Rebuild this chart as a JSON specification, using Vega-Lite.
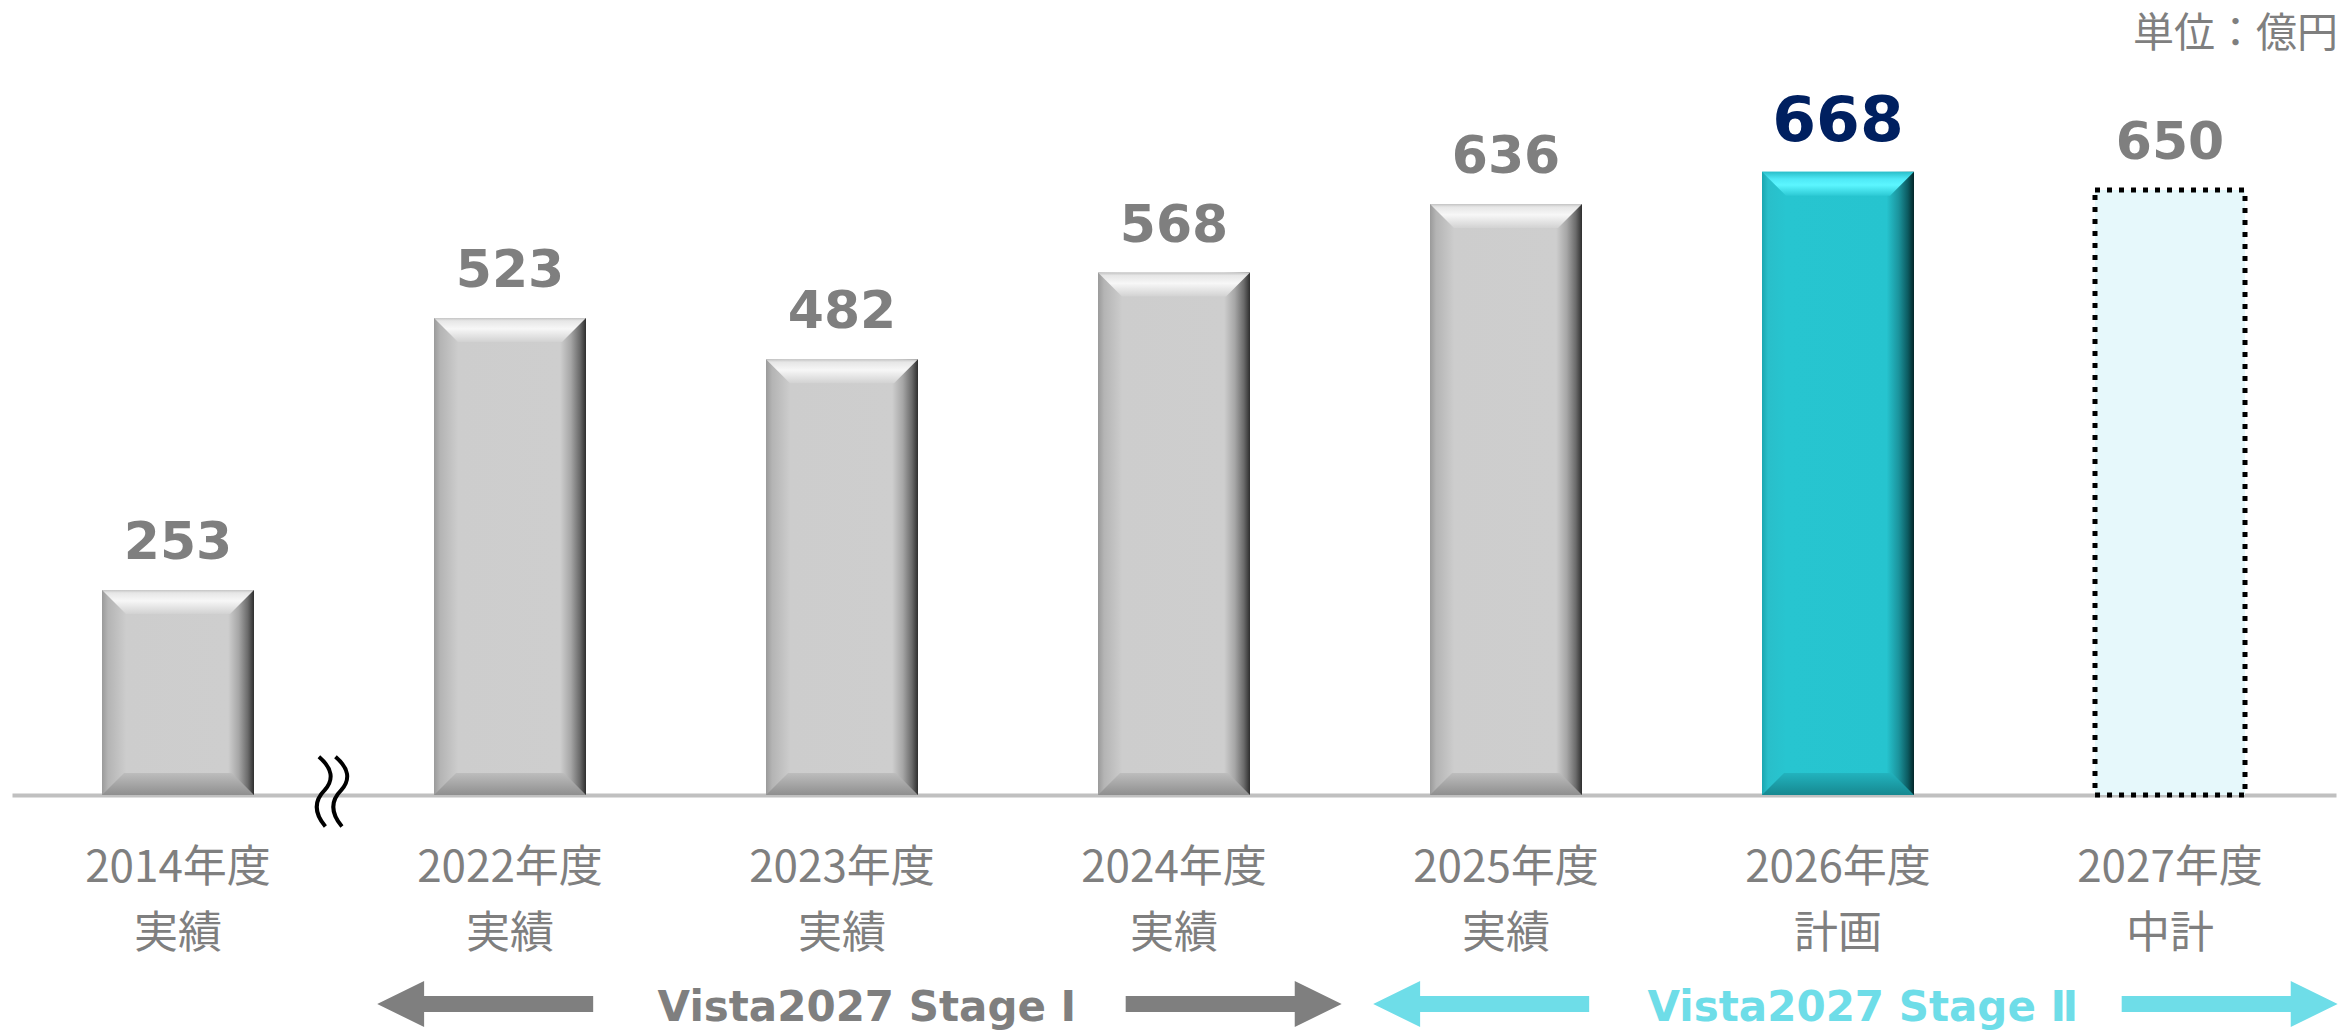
{
  "$schema": "https://vega.github.io/schema/vega-lite/v6.json",
  "width": 2343,
  "height": 735,
  "autosize": {"type": "none"},
  "padding": {"left": 0, "right": 0, "top": 60, "bottom": 237},
  "background": "white",
  "config": {"view": {"stroke": null}, "axisY": {"disable": true}},
  "data": {"values": [
    {"category": "2014年度\n実績", "status": "実績", "stage": null, "value": 253},
    {"category": "2022年度\n実績", "status": "実績", "stage": "Vista2027 Stage Ⅰ", "value": 523},
    {"category": "2023年度\n実績", "status": "実績", "stage": "Vista2027 Stage Ⅰ", "value": 482},
    {"category": "2024年度\n実績", "status": "実績", "stage": "Vista2027 Stage Ⅰ", "value": 568},
    {"category": "2025年度\n実績", "status": "実績", "stage": "Vista2027 Stage Ⅱ", "value": 636},
    {"category": "2026年度\n計画", "status": "計画", "stage": "Vista2027 Stage Ⅱ", "value": 668},
    {"category": "2027年度\n中計", "status": "中計", "stage": "Vista2027 Stage Ⅱ", "value": 650}
  ]},
  "encoding": {
    "x": {"field": "category", "type": "nominal", "title": null,
      "scale": {"type": "band", "range": [12, 2336], "paddingInner": 0, "paddingOuter": 0},
      "axis": {"labelExpr": "split(datum.label, '\\n')", "title": null, "ticks": false, "tickSize": 0, "labelPadding": 51, "labelLimit": 0, "labelFont": "Noto Sans CJK JP", "labelFontSize": 44, "labelColor": "#7f7f7f", "labelLineHeight": 66, "labelBaseline": "top", "labelAngle": 0, "domainColor": "#c0c0c0", "domainWidth": 4, "grid": false}},
    "y": {"field": "value", "type": "quantitative", "scale": {"domain": [49.5, 779], "zero": false, "nice": false}, "axis": null}
  },
  "layer": [
    {
      "transform": [{"filter": {"field": "status", "equal": "実績"}}],
      "mark": {"type": "bar", "width": 152, "fill": {"gradient": "linear", "x1": 0, "y1": 0, "x2": 1, "y2": 0, "stops": [{"offset": 0, "color": "#9a9a9a"}, {"offset": 0.04, "color": "#b4b4b4"}, {"offset": 0.16, "color": "#cdcdcd"}, {"offset": 0.83, "color": "#cecece"}, {"offset": 0.9, "color": "#a6a6a6"}, {"offset": 0.96, "color": "#6a6a6a"}, {"offset": 1, "color": "#2e2e2e"}]}},
      "encoding": {"y2": {"datum": 49.5}}
    },
    {
      "transform": [{"filter": {"field": "status", "equal": "実績"}}],
      "mark": {"type": "point", "shape": "M-1,0L1,0L0.684,0.316L-0.684,0.316Z", "size": 23104, "filled": true, "opacity": 1, "strokeWidth": 0, "fill": {"gradient": "linear", "x1": 0, "y1": 0, "x2": 0, "y2": 1, "stops": [{"offset": 0, "color": "#c4c4c4"}, {"offset": 0.12, "color": "#e6e6e6"}, {"offset": 0.45, "color": "#f7f7f7"}, {"offset": 1, "color": "#d2d2d2"}]}}
    },
    {
      "transform": [{"filter": {"field": "status", "equal": "実績"}}],
      "mark": {"type": "point", "shape": "M-1,0L1,0L0.71,-0.29L-0.71,-0.29Z", "size": 23104, "filled": true, "opacity": 1, "strokeWidth": 0, "fill": {"gradient": "linear", "x1": 0, "y1": 0, "x2": 0, "y2": 1, "stops": [{"offset": 0, "color": "#bdbdbd"}, {"offset": 1, "color": "#8f8f8f"}]}},
      "encoding": {"y": {"datum": 49.5}}
    },
    {
      "transform": [{"filter": {"field": "status", "equal": "計画"}}],
      "mark": {"type": "bar", "width": 152, "fill": {"gradient": "linear", "x1": 0, "y1": 0, "x2": 1, "y2": 0, "stops": [{"offset": 0, "color": "#1ba6b0"}, {"offset": 0.04, "color": "#29bfca"}, {"offset": 0.16, "color": "#27c5d0"}, {"offset": 0.82, "color": "#26c4cf"}, {"offset": 0.9, "color": "#1b939c"}, {"offset": 0.96, "color": "#0c5a60"}, {"offset": 1, "color": "#032528"}]}},
      "encoding": {"y2": {"datum": 49.5}}
    },
    {
      "transform": [{"filter": {"field": "status", "equal": "計画"}}],
      "mark": {"type": "point", "shape": "M-1,0L1,0L0.684,0.316L-0.684,0.316Z", "size": 23104, "filled": true, "opacity": 1, "strokeWidth": 0, "fill": {"gradient": "linear", "x1": 0, "y1": 0, "x2": 0, "y2": 1, "stops": [{"offset": 0, "color": "#2bbfca"}, {"offset": 0.3, "color": "#4fe9f6"}, {"offset": 0.55, "color": "#5cf6ff"}, {"offset": 1, "color": "#2cc9d4"}]}}
    },
    {
      "transform": [{"filter": {"field": "status", "equal": "計画"}}],
      "mark": {"type": "point", "shape": "M-1,0L1,0L0.71,-0.29L-0.71,-0.29Z", "size": 23104, "filled": true, "opacity": 1, "strokeWidth": 0, "fill": {"gradient": "linear", "x1": 0, "y1": 0, "x2": 0, "y2": 1, "stops": [{"offset": 0, "color": "#22b3be"}, {"offset": 1, "color": "#168890"}]}},
      "encoding": {"y": {"datum": 49.5}}
    },
    {
      "transform": [{"filter": {"field": "status", "equal": "中計"}}],
      "mark": {"type": "bar", "width": 150, "fill": "#e6f8fb", "stroke": "#000000", "strokeWidth": 5, "strokeDash": [5, 7], "strokeCap": "butt"},
      "encoding": {"y2": {"datum": 49.5}}
    },
    {
      "mark": {"type": "text", "font": "DejaVu Sans", "fontWeight": "bold", "baseline": "alphabetic", "align": "center", "dy": -31},
      "encoding": {
        "text": {"field": "value", "type": "quantitative"},
        "color": {"condition": {"test": "datum.status === '計画'", "value": "#002060"}, "value": "#7f7f7f"},
        "size": {"condition": {"test": "datum.status === '計画'", "value": 63}, "value": 52}
      }
    },
    {
      "transform": [{"filter": {"field": "category", "equal": "2014年度\n実績"}}],
      "mark": {"type": "point", "shape": "M-0.31,-0.98Q0.25,-0.5 -0.15,-0.05Q-0.6,0.4 -0.13,0.96M0.15,-0.98Q0.71,-0.5 0.31,-0.05Q-0.14,0.4 0.33,0.96", "size": 5184, "filled": false, "stroke": "#000000", "strokeWidth": 4, "opacity": 1, "yOffset": -3},
      "encoding": {"x": {"field": "category", "type": "nominal", "bandPosition": 0.958, "title": null}, "y": {"datum": 49.5}}
    },
    {
      "transform": [{"filter": {"field": "status", "equal": "中計"}}],
      "mark": {"type": "text", "text": "単位：億円", "font": "Noto Sans CJK JP", "fontSize": 41, "color": "#7f7f7f", "align": "right", "baseline": "alphabetic", "dy": -13},
      "encoding": {"x": {"field": "category", "type": "nominal", "bandPosition": 1.006, "title": null}, "y": {"datum": 779}}
    },
    {
      "transform": [
        {"filter": "isValid(datum.stage)"},
        {"window": [{"op": "row_number", "as": "pos"}, {"op": "count", "as": "n"}], "groupby": ["stage"], "sort": [{"field": "category", "order": "ascending"}], "frame": [null, null]}
      ],
      "layer": [
        {
          "transform": [{"filter": "datum.pos === 1"}],
          "mark": {"type": "point", "shape": "M0,0L2.04,-1L2.04,-0.35L9.39,-0.35L9.39,0.35L2.04,0.35L2.04,1Z", "size": 2116, "filled": true, "opacity": 1, "strokeWidth": 0, "yOffset": 209},
          "encoding": {
            "x": {"field": "category", "type": "nominal", "bandPosition": 0.1, "title": null},
            "y": {"datum": 49.5},
            "color": {"field": "stage", "type": "nominal", "scale": {"domain": ["Vista2027 Stage Ⅰ", "Vista2027 Stage Ⅱ"], "range": ["#7f7f7f", "#6edde8"]}, "legend": null}
          }
        },
        {
          "transform": [{"filter": "datum.pos === datum.n"}],
          "mark": {"type": "point", "shape": "M0,0L-2.04,-1L-2.04,-0.35L-9.39,-0.35L-9.39,0.35L-2.04,0.35L-2.04,1Z", "size": 2116, "filled": true, "opacity": 1, "strokeWidth": 0, "yOffset": 209},
          "encoding": {
            "x": {"field": "category", "type": "nominal", "bandPosition": 1.005, "title": null},
            "y": {"datum": 49.5},
            "color": {"field": "stage", "type": "nominal", "scale": {"domain": ["Vista2027 Stage Ⅰ", "Vista2027 Stage Ⅱ"], "range": ["#7f7f7f", "#6edde8"]}, "legend": null}
          }
        },
        {
          "transform": [{"filter": "datum.pos === 2"}],
          "mark": {"type": "text", "font": "DejaVu Sans", "fontWeight": "bold", "fontSize": 42, "baseline": "alphabetic", "align": "center", "yOffset": 226},
          "encoding": {
            "x": {"field": "category", "type": "nominal", "bandPosition": 0.575, "title": null},
            "y": {"datum": 49.5},
            "text": {"field": "stage", "type": "nominal"},
            "color": {"field": "stage", "type": "nominal", "scale": {"domain": ["Vista2027 Stage Ⅰ", "Vista2027 Stage Ⅱ"], "range": ["#7f7f7f", "#6edde8"]}, "legend": null}
          }
        }
      ]
    }
  ]
}
